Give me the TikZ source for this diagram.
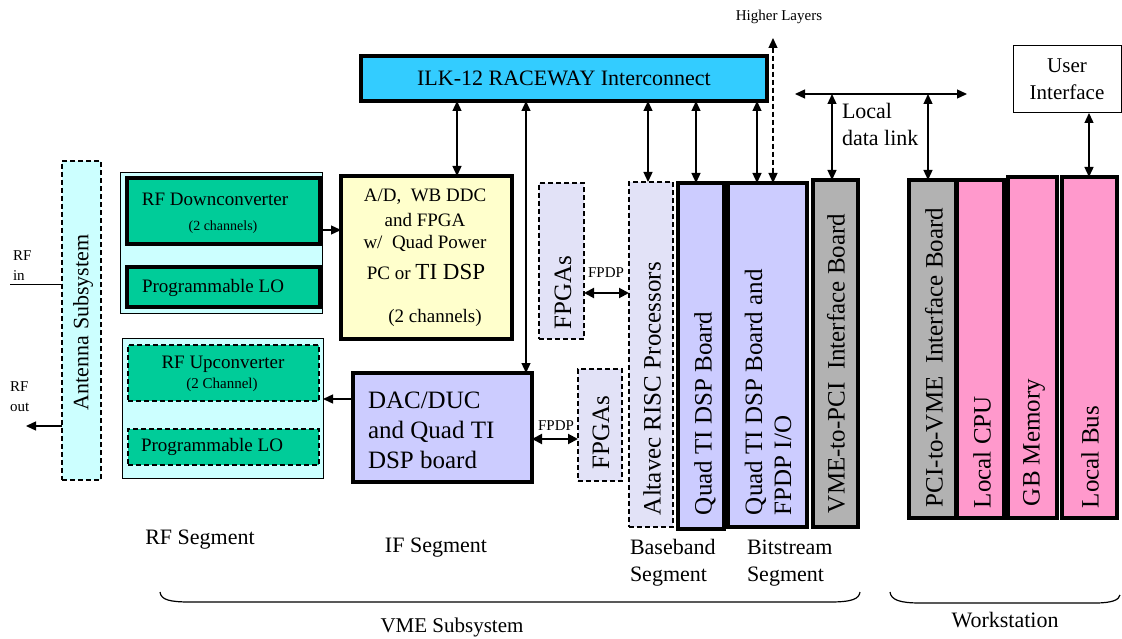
\documentclass[tikz,border=0pt]{standalone}
\usepackage{fontspec}
\setmainfont{Liberation Serif}
\usetikzlibrary{arrows.meta}
\definecolor{cyanlt}{HTML}{CCFFFF}
\definecolor{grn}{HTML}{00CC99}
\definecolor{ylw}{HTML}{FFFFCC}
\definecolor{rwblue}{HTML}{33CCFF}
\definecolor{lav}{HTML}{CCCCFF}
\definecolor{lavlt}{HTML}{E2E2F7}
\definecolor{gry}{HTML}{B2B2B2}
\definecolor{pnk}{HTML}{FF99CC}
\begin{document}
\begin{tikzpicture}[x=1pt,y=-1pt,
  box/.style={draw, rectangle, inner sep=0pt, outer sep=0pt},
  bthin/.style={line width=1pt},
  bthk/.style={line width=3.3pt},
  bdsh/.style={line width=1.3pt, dash pattern=on 5pt off 3pt},
  bdshk/.style={line width=2pt, dash pattern=on 5pt off 3pt},
  dar/.style={line width=1.3pt, {Triangle[length=10pt,width=9pt]}-{Triangle[length=10pt,width=9pt]}},
  sar/.style={line width=1.3pt, -{Triangle[length=10pt,width=9pt]}},
  fpdp/.style={line width=2pt, {Triangle[length=10pt,width=10pt]}-{Triangle[length=10pt,width=10pt]}},
  lbl/.style={inner sep=0pt, outer sep=0pt},
  vl/.style={inner sep=0pt, outer sep=0pt, rotate=90, anchor=west},
  f14/.style={font=\fontsize{14}{18}\selectfont},
  f15/.style={font=\fontsize{15}{20}\selectfont},
  f19/.style={font=\fontsize{19}{23}\selectfont},
  f21/.style={font=\fontsize{21}{27}\selectfont},
  f22/.style={font=\fontsize{22}{27}\selectfont},
  f25/.style={font=\fontsize{25}{29}\selectfont}
]
\useasboundingbox (0,0) rectangle (1122,639);

% ---------- boxes ----------
\node[box,bdsh,fill=cyanlt,minimum width=39,minimum height=319] (ant) at (81.5,320.5) {};
\node[box,bthin,fill=cyanlt,minimum width=202,minimum height=140] (dcout) at (221,243) {};
\node[box,bthk,fill=grn,minimum width=193,minimum height=66] (dc) at (223.5,211) {};
\node[box,bthk,fill=grn,minimum width=193,minimum height=40] (lo1) at (223.5,287) {};
\node[box,bthin,fill=cyanlt,minimum width=201,minimum height=140] (ucout) at (222.5,408) {};
\node[box,bdshk,fill=grn,minimum width=191,minimum height=56] (uc) at (223.5,373) {};
\node[box,bdshk,fill=grn,minimum width=191,minimum height=36] (lo2) at (223.5,447) {};
\node[box,bthk,fill=ylw,minimum width=171,minimum height=163] (ad) at (426.5,257.5) {};
\node[box,bthk,fill=rwblue,minimum width=406,minimum height=45,f22] (rw) at (564,78.5) {ILK-12 RACEWAY Interconnect};
\node[box,bthk,fill=lav,minimum width=179,minimum height=109] (dac) at (442.5,427.5) {};
\node[box,bdsh,fill=lavlt,minimum width=45,minimum height=156] (fp1) at (561.5,261) {};
\node[box,bdsh,fill=lavlt,minimum width=44,minimum height=112] (fp2) at (600,425) {};
\node[box,bdsh,fill=lavlt,minimum width=44,minimum height=345] (alt) at (651,354.5) {};
\node[box,bthk,fill=lav,minimum width=46,minimum height=346] (q1) at (701,356) {};
\node[box,bthk,fill=lav,minimum width=79,minimum height=344] (q2) at (767.5,355) {};
\node[box,bthk,fill=gry,minimum width=45,minimum height=347] (vp) at (835.5,353.5) {};
\node[box,bthk,fill=gry,minimum width=47,minimum height=338] (pv) at (932.5,349) {};
\node[box,bthk,fill=pnk,minimum width=47,minimum height=338] (cpu) at (980.5,349) {};
\node[box,bthk,fill=pnk,minimum width=49,minimum height=341] (mem) at (1032.5,347.5) {};
\node[box,bthk,fill=pnk,minimum width=55,minimum height=341] (bus) at (1089.5,347.5) {};
\node[box,bthin,fill=white,minimum width=108,minimum height=67,align=center,f21] (ui) at (1067,79.5) {User\\Interface};

% ---------- texts in boxes ----------
\node[lbl,f19] (tdc1) at (215,199) {RF Downconverter};
\node[lbl,f14] (tdc2) at (223,227) {(2 channels)};
\node[lbl,f19] (tlo1) at (213,288) {Programmable LO};
\node[lbl,f19] (tuc1) at (223,364) {RF Upconverter};
\node[lbl,f15] (tuc2) at (222,385) {(2 Channel)};
\node[lbl,f19] (tlo2) at (212,447) {Programmable LO};
\node[lbl,f19] (tad1) at (425,197) {A/D,\ \ WB DDC};
\node[lbl,f19] (tad2) at (425,220) {and FPGA};
\node[lbl,f19] (tad3) at (425,243) {w/\ \ Quad Power};
\node[lbl,f19] (tad4) at (426,272) {PC or {\fontsize{23}{27}\selectfont TI DSP}};
\node[lbl,f19] (tad5) at (435,318) {(2 channels)};
\node[lbl,align=left,anchor=west,font=\fontsize{25}{30}\selectfont] (tdac) at (368,430) {DAC/DUC\\and Quad TI\\DSP board};
\node[lbl,f15] (tfp1) at (606,273) {FPDP};
\node[lbl,f15] (tfp2) at (556,426) {FPDP};
\node[vl,f22] (tant) at (83,410) {Antenna Subsystem};
\node[vl,f25] (tfg1) at (563,329) {FPGAs};
\node[vl,f25] (tfg2) at (601,469) {FPGAs};
\node[vl,f25] (talt) at (652,515) {Altavec RISC Processors};
\node[vl,f25] (tq1) at (705,515) {Quad TI DSP Board};
\node[vl,align=left,font=\fontsize{25}{29}\selectfont] (tq2) at (768,515) {Quad TI DSP Board and\\FPDP I/O};
\node[vl,f25] (tvp) at (836,513) {VME-to-PCI\ \ Interface Board};
\node[vl,f25] (tpv) at (934,507) {PCI-to-VME\ \ Interface Board};
\node[vl,f25] (tcpu) at (982,508) {Local CPU};
\node[vl,f25] (tmem) at (1034,506) {GB Memory};
\node[vl,f25] (tbus) at (1090,508) {Local Bus};

% ---------- free labels ----------
\node[lbl,f15] (thl) at (779,17) {Higher Layers};
\node[lbl,f22,align=left,anchor=west] (tldl) at (842,124) {Local\\data link};
\node[lbl,f15,align=left,anchor=west] (trfin) at (13,266) {RF\\in};
\node[lbl,f15,align=left,anchor=west] (trfout) at (10,397) {RF\\out};
\node[lbl,f22] (trf) at (200,540) {RF Segment};
\node[lbl,f22] (tif) at (436,548) {IF Segment};
\node[lbl,f22,align=left,anchor=west] (tbb) at (630,563) {Baseband\\Segment};
\node[lbl,f22,align=left,anchor=west] (tbs) at (747,563) {Bitstream\\Segment};
\node[lbl,f21] (tvme) at (452,627) {VME Subsystem};
\node[lbl,f22] (tws) at (1005,620) {Workstation};

% ---------- helper coordinates ----------
\coordinate (x457) at (457,0);
\coordinate (x526) at (526,0);
\coordinate (x648) at (648,0);
\coordinate (x696) at (696,0);
\coordinate (x757) at (757,0);
\coordinate (x832) at (832,0);
\coordinate (x928) at (928,0);
\coordinate (x1089) at (1089,0);
\coordinate (y230) at (0,230);
\coordinate (y399) at (0,399);
\coordinate (y293) at (0,293);
\coordinate (y439) at (0,439);
\coordinate (hl) at (773,38);
\coordinate (ldl) at (795,94);
\coordinate (ldr) at (967,94);
\coordinate (rfin) at (10,284);
\coordinate (rfout) at (26,426);

% ---------- connectors ----------
\draw[dar] (rw.south -| x457) -- (ad.north -| x457);
\draw[dar] (rw.south -| x526) -- (dac.north -| x526);
\draw[dar] (rw.south -| x648) -- (alt.north -| x648);
\draw[dar] (rw.south -| x696) -- (q1.north -| x696);
\draw[dar] (rw.south -| x757) -- (q2.north -| x757);
\draw[dar,dash pattern=on 5pt off 3pt] (hl) -- (q2.north -| hl);
\draw[dar] (ldl) -- (ldr);
\draw[dar] (ldl -| x832) -- (vp.north -| x832);
\draw[dar] (ldl -| x928) -- (pv.north -| x928);
\draw[dar] (ui.south -| x1089) -- (bus.north -| x1089);
\draw[sar] (dcout.east |- y230) -- (ad.west |- y230);
\draw[sar] (dac.west |- y399) -- (ucout.east |- y399);
\draw[fpdp] (fp1.east |- y293) -- (alt.west |- y293);
\draw[fpdp] (dac.east |- y439) -- (fp2.west |- y439);
\draw[line width=1pt] (rfin) -- (ant.west |- rfin);
\draw[sar] (ant.west |- rfout) -- (rfout);

% ---------- braces ----------
\draw[line width=1.2pt] (160,592) .. controls (161,600) and (170,602) .. (190,602) -- (830,602) .. controls (852,602) and (859,599) .. (860,592);
\draw[line width=1.2pt] (890,592) .. controls (891,600) and (900,603) .. (920,603) -- (1095,603) .. controls (1112,603) and (1119,600) .. (1120,595);
\end{tikzpicture}
\end{document}
